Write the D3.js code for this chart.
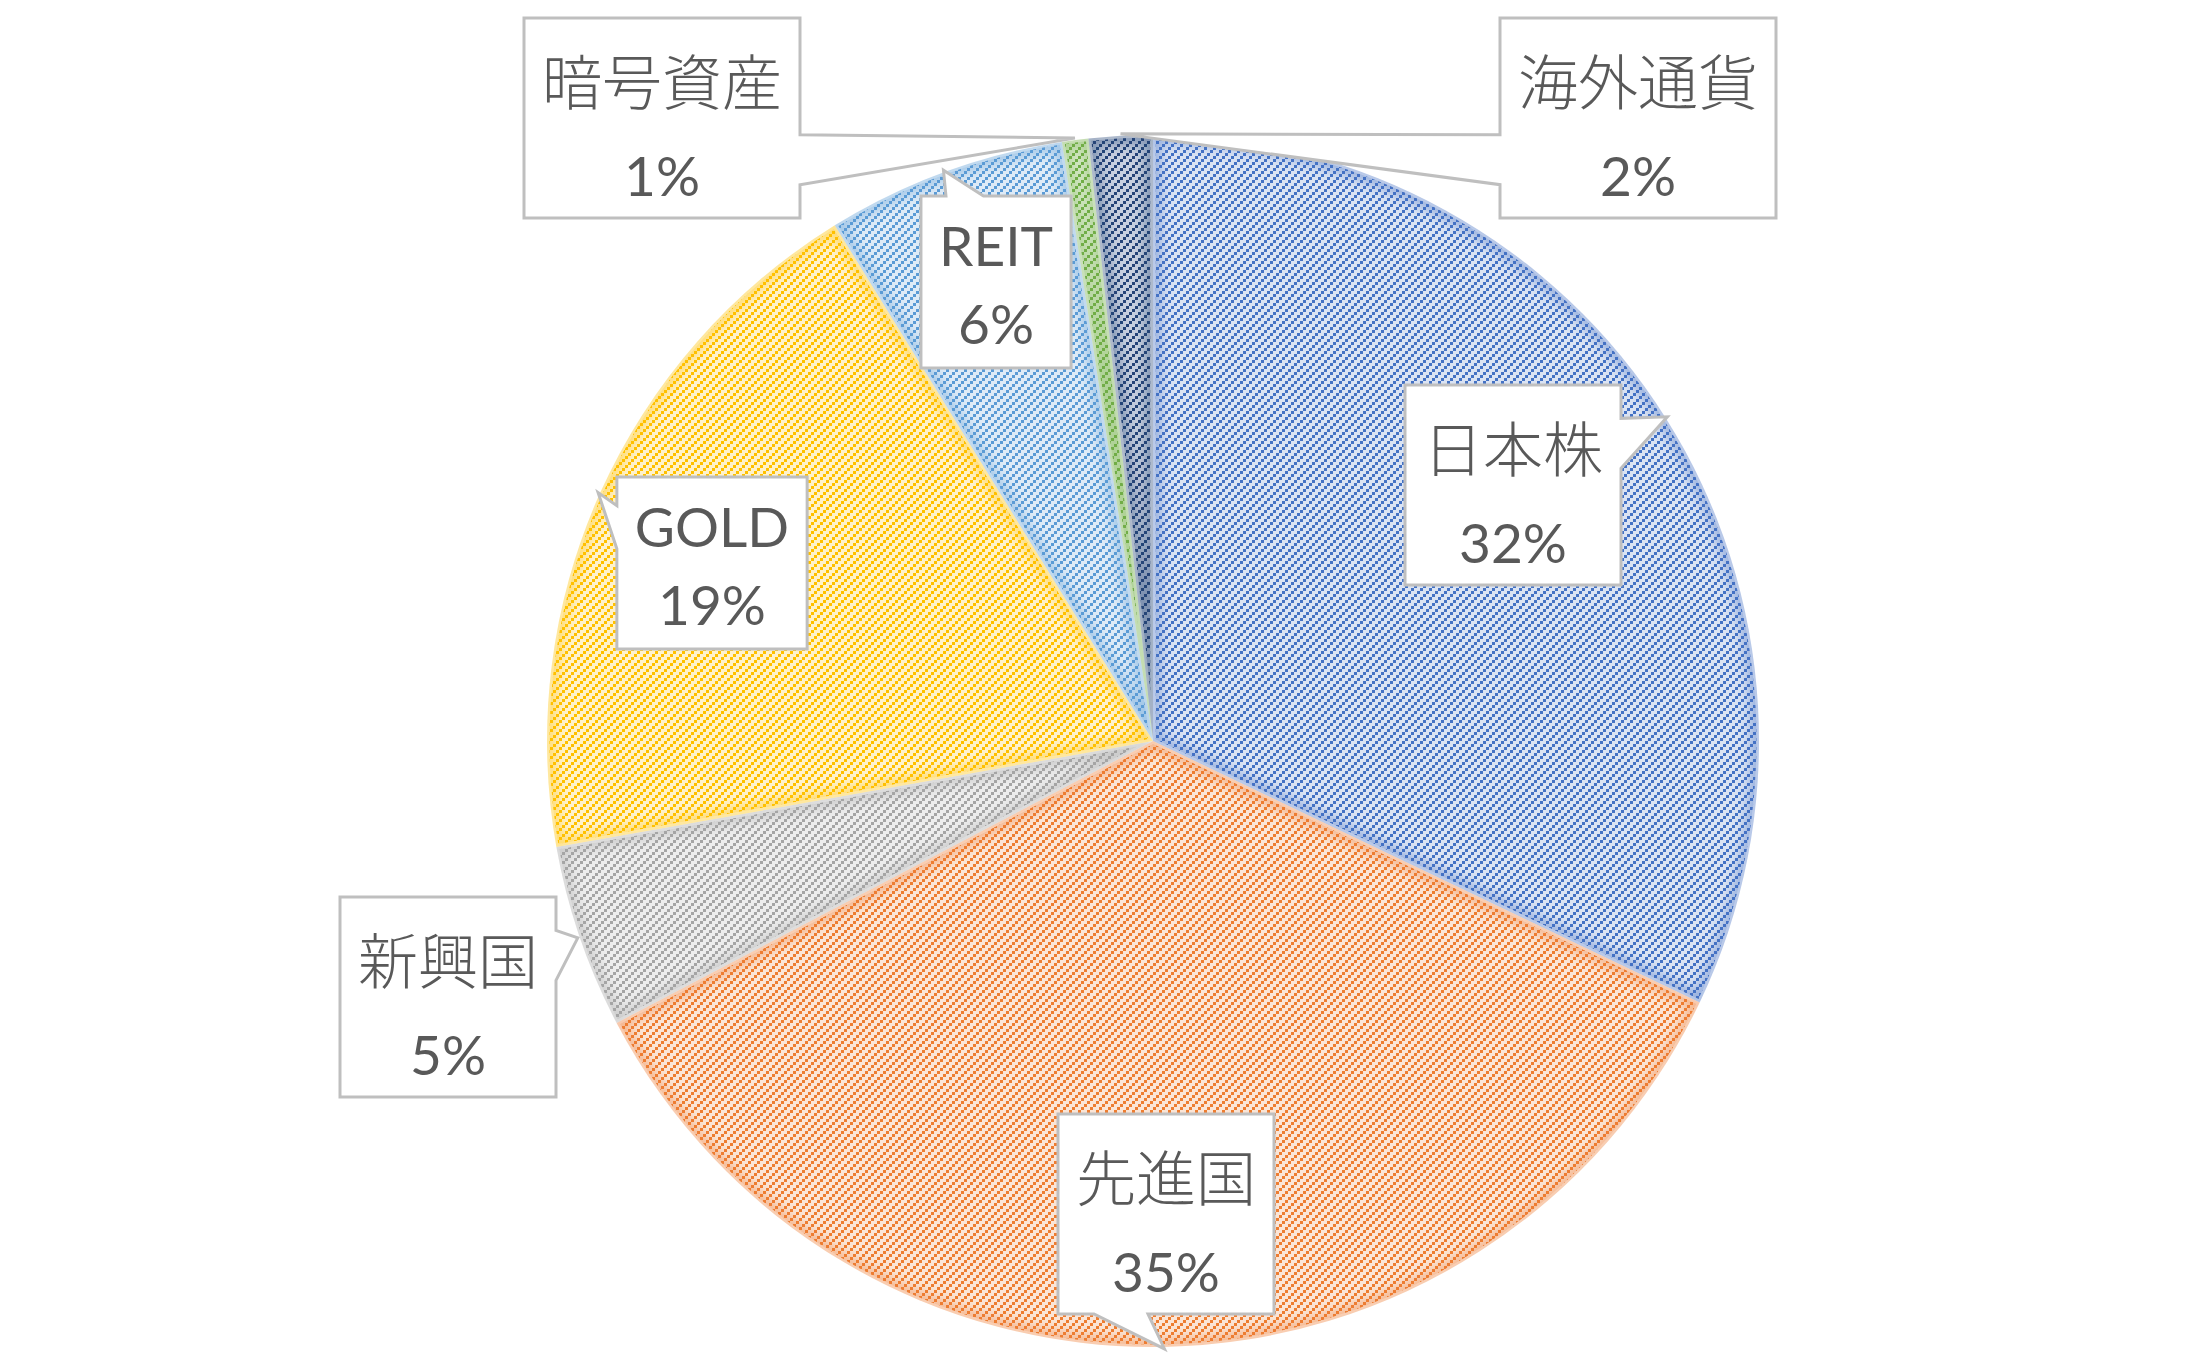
<!DOCTYPE html>
<html><head><meta charset="utf-8">
<script src="https://cdn.jsdelivr.net/npm/d3@7"></script>
<style>
html,body{margin:0;padding:0;background:#fff;}
svg{display:block;}
</style></head><body>
<svg id="chart" width="2189" height="1365"></svg>
<script>
// ---- data ----
const categories = ["日本株","先進国","新興国","GOLD","REIT","暗号資産","海外通貨"];
const values = [32.1, 35.2, 4.9, 19.0, 6.4, 0.7, 1.7];
const colors = ["#4472C4","#ED7D31","#A5A5A5","#FFC000","#5B9BD5","#70AD47","#264478"];
const tints  = ["#DAE3F3","#FBE5D6","#EDEDED","#FFF2CC","#DEEBF7","#E2F0D9","#C8D0E0"];
// ---- layout (label box centre offsets from the pie centre) ----
const labelOffsets = [[360,-256],[13,473],[-705,256],[-441,-178],[-157,-459],[-491,-623],[485,-623]];

const cx = 1153, cy = 741, R = 606;
const svg = d3.select("#chart");
const defs = svg.append("defs");

const total = d3.sum(values);
const pct = d3.format(".0%");
const pie = d3.pie().sort(null).value(d => d);
const arcs = pie(values);
const arc = d3.arc().innerRadius(0).outerRadius(R);

defs.append("filter").attr("id","blur").attr("x","-20%").attr("y","-20%").attr("width","140%").attr("height","140%")
  .append("feGaussianBlur").attr("stdDeviation", 6);

colors.forEach((c,i) => {
  const p = defs.append("pattern").attr("id","pat"+i).attr("patternUnits","userSpaceOnUse")
    .attr("width",9).attr("height",9);
  p.append("rect").attr("width",9).attr("height",9).attr("fill",tints[i]);
  [[0,6],[3,3],[6,0]].forEach(([x,y]) => p.append("rect").attr("x",x).attr("y",y).attr("width",3).attr("height",3).attr("fill",c));
  defs.append("clipPath").attr("id","clip"+i).append("path")
    .attr("d", arc(arcs[i])).attr("transform",`translate(${cx},${cy})`);
});

const g = svg.append("g").attr("transform",`translate(${cx},${cy})`);
g.selectAll("path.slice").data(arcs).join("path").attr("class","slice")
  .attr("d", arc).attr("fill",(d,i)=>`url(#pat${i})`);

// soft inner edge shading
arcs.forEach((a,i) => {
  svg.append("g").attr("clip-path",`url(#clip${i})`)
    .append("path").attr("transform",`translate(${cx},${cy})`)
    .attr("d", arc(a)).attr("fill","none").attr("stroke",colors[i])
    .attr("stroke-width",16).attr("stroke-opacity",0.45).attr("filter","url(#blur)");
});

g.selectAll("path.edge").data(arcs).join("path").attr("class","edge")
  .attr("d", arc).attr("fill","none").attr("stroke","#fff").attr("stroke-width",5).attr("stroke-linejoin","round");

// ---- callout labels ----
const isCJK = s => /[^\x00-\x7F]/.test(s);
const lab = svg.append("g");
arcs.forEach((a,i) => {
  const name = categories[i];
  const cjk = isCJK(name);
  const mid = (a.startAngle + a.endAngle)/2;
  const tx = cx + (R+2)*Math.sin(mid), ty = cy - (R+2)*Math.cos(mid);
  const bcx = cx + labelOffsets[i][0], bcy = cy + labelOffsets[i][1];
  const grp = lab.append("g");
  const path = grp.append("path");
  const t1 = grp.append("text").attr("x",bcx).attr("y",bcy + (cjk ? -40 : -37))
    .attr("text-anchor","middle").attr("dominant-baseline","central")
    .attr("fill","#595959")
    .style("font-family", cjk ? "'Noto Sans CJK JP'" : "Lato, 'Noto Sans'")
    .style("font-weight", cjk ? 300 : 400)
    .style("font-size", cjk ? "60px" : "55px").text(name);
  const t2 = grp.append("text").attr("x",bcx).attr("y",bcy + (cjk ? 57 : 41))
    .attr("text-anchor","middle").attr("dominant-baseline","central")
    .attr("fill","#595959").style("font-family","Lato, 'Noto Sans'")
    .style("font-size","55px").text(pct(values[i]/total));
  const tw = Math.max(t1.node().getComputedTextLength(), t2.node().getComputedTextLength());
  const w = tw + 36, h = cjk ? 200 : 172;
  const x0 = bcx - w/2, y0 = bcy - h/2;
  const dxPos = tx - bcx, dyPos = ty - bcy;
  const dx = dxPos*h, dy = dyPos*w;
  let pts = [[x0,y0]];
  const by1 = y0 + h*(dyPos>0?7:2)/12, by2 = y0 + h*(dyPos>0?10:5)/12;
  const bx1 = x0 + w*(dxPos>0?7:2)/12, bx2 = x0 + w*(dxPos>0?10:5)/12;
  let side;
  if (Math.abs(dx) > Math.abs(dy)) side = dx>0 ? "right" : "left";
  else side = dy>0 ? "bottom" : "top";
  if (side==="top") pts.push([bx1,y0],[tx,ty],[bx2,y0]);
  pts.push([x0+w,y0]);
  if (side==="right") pts.push([x0+w,by1],[tx,ty],[x0+w,by2]);
  pts.push([x0+w,y0+h]);
  if (side==="bottom") pts.push([bx2,y0+h],[tx,ty],[bx1,y0+h]);
  pts.push([x0,y0+h]);
  if (side==="left") pts.push([x0,by2],[tx,ty],[x0,by1]);
  path.attr("d", "M" + pts.map(p=>p.join(",")).join("L") + "Z")
    .attr("fill","#fff").attr("stroke","#BFBFBF").attr("stroke-width",3).attr("stroke-linejoin","miter");
});
</script>
</body></html>
